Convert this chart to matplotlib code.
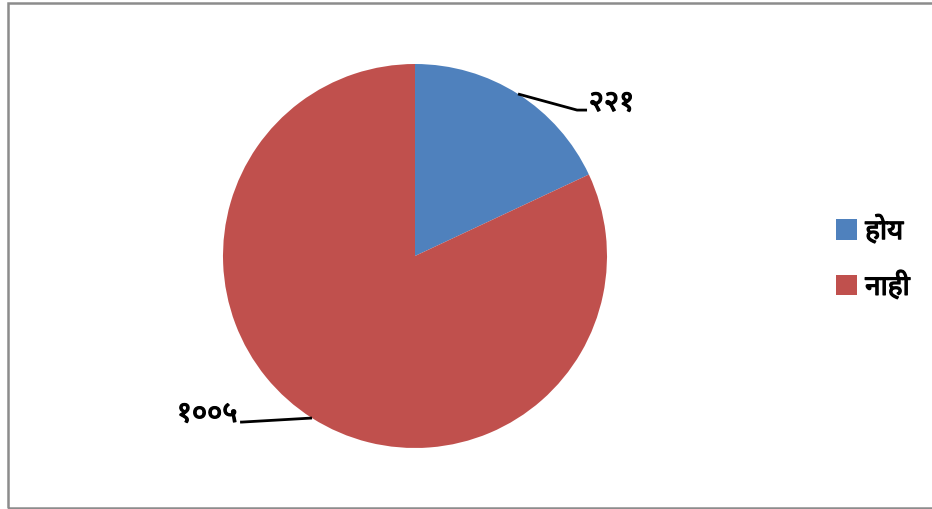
import numpy as np
import matplotlib
matplotlib.use("Agg")
import matplotlib.pyplot as plt
import matplotlib.patheffects as pe
from matplotlib import font_manager
from matplotlib.patches import Rectangle

# data
labels = ['होय', 'नाही']
values = [221, 1005]
value_text = ['२२१', '१००५']
colors = ['#4F81BD', '#C0504D']

# pick a font that has Devanagari glyphs
names = set(f.name for f in font_manager.fontManager.ttflist)
dev_font = 'DejaVu Sans'
for n in ['Noto Sans Devanagari', 'Hind', 'Mukta', 'Ek Mukta', 'Biryani', 'FreeSans']:
    if n in names:
        dev_font = n
        break
plt.rcParams['font.family'] = [dev_font, 'DejaVu Sans']

# the reference glyphs are heavier, thicken with a thin outline
heavy = [pe.withStroke(linewidth=0.9, foreground='black')]

W, H = 932, 510
fig = plt.figure(figsize=(W / 100, H / 100), dpi=100)

# pie centre (415,257) px, radius 192 px
cx, cy, r = 415, 257, 192
ax = fig.add_axes([(cx - r) / W, (H - cy - r) / H, 2 * r / W, 2 * r / H])
wedges, _ = ax.pie(values, colors=colors, startangle=90, counterclock=False,
                   radius=1.0, wedgeprops=dict(linewidth=0))
ax.set_xlim(-1, 1)
ax.set_ylim(-1, 1)
ax.set_aspect('equal')
ax.axis('off')

# data labels with leader lines (elbow, line end, text position)
label_pos = [((0.844, 0.760), (0.896, 0.760), (0.905, 0.795), 'left'),
             ((-0.901, -0.865), (-0.911, -0.865), (-0.925, -0.825), 'right')]
for w, txt, (elbow, end, tpos, ha) in zip(wedges, value_text, label_pos):
    mid = np.deg2rad((w.theta1 + w.theta2) / 2)
    x0, y0 = np.cos(mid), np.sin(mid)
    ax.plot([x0, elbow[0], end[0]], [y0, elbow[1], end[1]], color='black',
            linewidth=2, clip_on=False, solid_capstyle='butt')
    ax.text(tpos[0], tpos[1], txt, ha=ha, va='center', fontsize=21,
            color='black', clip_on=False, path_effects=heavy)

# legend
leg = fig.legend(wedges, labels, loc='center left',
                 bbox_to_anchor=(811 / W, 1 - 261 / H), frameon=False,
                 fontsize=20, handlelength=0.75, handleheight=0.75,
                 handletextpad=0.3, labelspacing=1.0)
for t in leg.get_texts():
    t.set_path_effects(heavy)

# outer chart border (right side runs off the image)
fig.patches.append(Rectangle((7.5 / W, 1.5 / H), 1.2, (H - 5) / H,
                             transform=fig.transFigure, fill=False,
                             edgecolor='#8c8c8c', linewidth=1.8))

fig.savefig('out.png', dpi=100)
